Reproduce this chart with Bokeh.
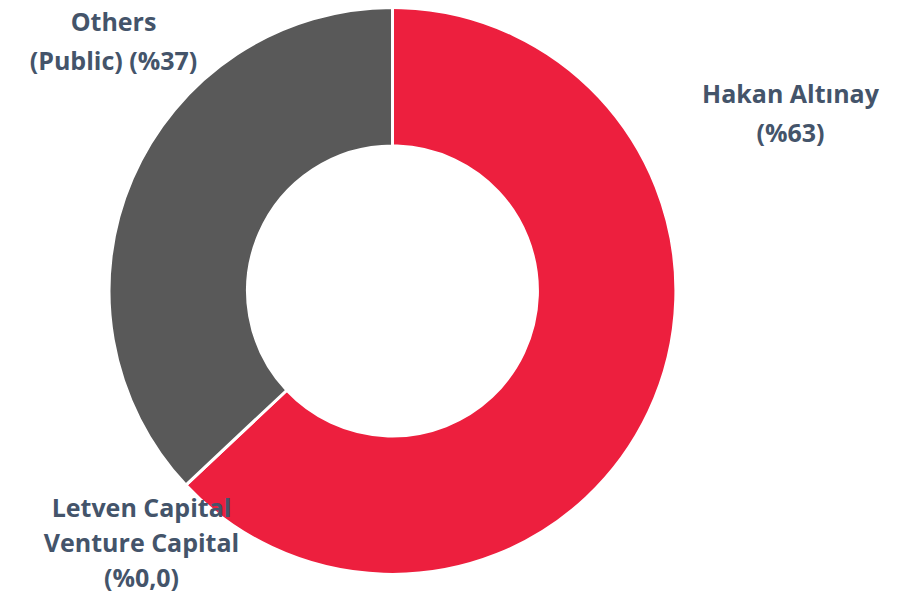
import math
from bokeh.plotting import figure
from bokeh.models import Range1d, ColumnDataSource
from bokeh.core.properties import value
from bokeh.embed import file_html
from bokeh.resources import INLINE

# Data
categories = ["Hakan Altınay", "Letven Capital Venture Capital", "Others (Public)"]
shares = [63.0, 0.0, 37.0]
colors = ["#ED1F3E", "#ED1F3E", "#595959"]
label_lines = [
    ["Hakan Altınay", "(%63)"],
    ["Letven Capital", "Venture Capital", "(%0,0)"],
    ["Others", "(Public) (%37)"],
]

W, H = 886, 597
p = figure(width=W, height=H, output_backend="svg", toolbar_location=None,
           x_range=Range1d(0, W), y_range=Range1d(613 - H, 613), min_border=0)
p.axis.visible = False
p.grid.visible = False
p.outline_line_color = None
p.background_fill_color = "white"
p.border_fill_color = "white"

# geometry (image coords -> data: y = 613 - y_img)
cx, cy = 392, 613 - 290.5
r_out, r_in = 283.5, 145

total = sum(shares)
starts, ends = [], []
acc = 0.0
for s in shares:
    a0 = math.pi / 2 - 2 * math.pi * acc / total
    acc += s
    a1 = math.pi / 2 - 2 * math.pi * acc / total
    starts.append(a0)
    ends.append(a1)

src = ColumnDataSource(dict(start=starts, end=ends, color=colors,
                            x=[cx] * 3, y=[cy] * 3))
p.annular_wedge(x="x", y="y", inner_radius=r_in, outer_radius=r_out,
                start_angle="start", end_angle="end", direction="clock",
                fill_color="color", line_color="white", line_width=3, source=src)

# labels
label_pos = [(790, 92, 39), (141, 506, 35), (113, 20, 39)]
tx, ty, tt = [], [], []
for lines, (lx, ly, gap) in zip(label_lines, label_pos):
    for i, t in enumerate(lines):
        tx.append(lx)
        ty.append(613 - (ly + i * gap))
        tt.append(t)
p.text(x=tx, y=ty, text=tt, text_font=value("Open Sans"), text_font_style="bold",
       text_font_size="25px", text_color="#44546A", text_align="center",
       text_baseline="middle")

open("out.html", "w").write(file_html(p, INLINE))
